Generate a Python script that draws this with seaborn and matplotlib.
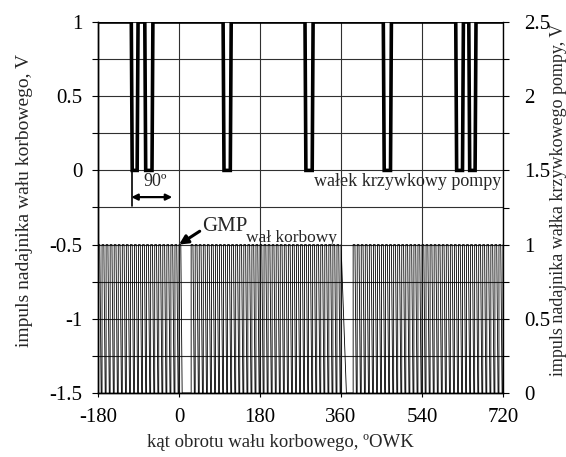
import matplotlib
matplotlib.use("Agg")
import matplotlib.pyplot as plt
import seaborn as sns
from matplotlib.ticker import MultipleLocator, FixedLocator

# ---------------- data ----------------
x_ticks = [-180, 0, 180, 360, 540, 720]
left_ticks = [-1.5, -1, -0.5, 0, 0.5, 1]
left_tick_labels = ["-1.5", "-1", "-0.5", "0", "0.5", "1"]
right_ticks = [0, 0.5, 1, 1.5, 2, 2.5]
right_tick_labels = ["0", "0.5", "1", "1.5", "2", "2.5"]

# camshaft (pump) sensor: level 1 V with dips to 0 V (bottom start / end, degrees)
cam_high = 1.0
cam_low = 0.0
cam_dip_start = [-104, -74, 100, 282, 456, 617, 646]
cam_dip_end = [-93, -60, 114, 296, 470, 630, 658]

# crankshaft sensor: rising edges of teeth (degrees), two missing teeth after 0 and 360
crank_teeth_a = [-180, -171, -162, -153, -144, -135, -126, -117, -108, -99, -90,
                 -81, -72, -63, -54, -45, -36, -27, -18, -9, 0]
crank_teeth_b = [27, 36, 45, 54, 63, 72, 81, 90, 99, 108, 117, 126, 135, 144, 153,
                 162, 171, 180, 189, 198, 207, 216, 225, 234, 243, 252, 261, 270,
                 279, 288, 297, 306, 315, 324, 333, 342, 351, 360]
crank_teeth_c = [387, 396, 405, 414, 423, 432, 441, 450, 459, 468, 477, 486, 495,
                 504, 513, 522, 531, 540, 549, 558, 567, 576, 585, 594, 603, 612,
                 621, 630, 639, 648, 657, 666, 675, 684, 693, 702, 711, 720]
crank_high = 1.0
crank_low = 0.0

# ---------------- style / shape params ----------------
cam_edge = 2.0
crank_hold = 4.0
crank_fall = 3.0
crank_slow_fall = {360: 12.0}
x_min, x_max = -180, 720

# build cam path
cam_x = [x_min]
cam_y = [cam_high]
for s, e in zip(cam_dip_start, cam_dip_end):
    cam_x += [s - cam_edge, s, e, e + cam_edge]
    cam_y += [cam_high, cam_low, cam_low, cam_high]
cam_x.append(x_max)
cam_y.append(cam_high)

# build crank path
crank_x, crank_y = [], []
for t in crank_teeth_a + crank_teeth_b + crank_teeth_c:
    if t >= x_max:
        crank_x += [t, t]
        crank_y += [crank_low, crank_high]
    elif t in crank_slow_fall:
        crank_x += [t, t, t + crank_slow_fall[t]]
        crank_y += [crank_low, crank_high, crank_low]
    else:
        crank_x += [t, t, t + crank_hold, t + crank_hold + crank_fall]
        crank_y += [crank_low, crank_high, crank_high, crank_low]

# ---------------- plotting ----------------
sns.set_style("ticks")
plt.rcParams["font.family"] = ["Liberation Serif", "DejaVu Serif"]

fig = plt.figure(figsize=(5.66, 4.57), dpi=100)
ax = fig.add_axes([98 / 566, 64 / 457, 405 / 566, 371 / 457])
ax2 = ax.twinx()
ax2.set_position(ax.get_position())

ax.set_xlim(x_min, x_max)
ax.set_ylim(-1.5, 1.0)
ax2.set_ylim(0, 2.5)

ax.xaxis.set_major_locator(FixedLocator(x_ticks))
ax.set_xticklabels([str(v) for v in x_ticks])
ax.yaxis.set_major_locator(FixedLocator(left_ticks))
ax.set_yticklabels(left_tick_labels)
ax.yaxis.set_minor_locator(MultipleLocator(0.25))
ax2.yaxis.set_major_locator(FixedLocator(right_ticks))
ax2.set_yticklabels(right_tick_labels)
ax2.yaxis.set_minor_locator(MultipleLocator(0.25))

ax.grid(True, which="major", axis="x", color="#303030", lw=0.8)
ax.grid(True, which="both", axis="y", color="#303030", lw=0.8)
ax.set_axisbelow(True)

sns.lineplot(x=cam_x, y=cam_y, ax=ax, sort=False, estimator=None,
             color="black", lw=2.6, solid_joinstyle="miter")
sns.lineplot(x=crank_x, y=crank_y, ax=ax2, sort=False, estimator=None,
             color="black", lw=0.6)

for a in (ax, ax2):
    a.spines["top"].set_visible(False)
    for s in a.spines.values():
        s.set_color("black")
        s.set_linewidth(1.0)
ax.spines["right"].set_visible(False)

ax.tick_params(axis="x", which="both", direction="out", length=3, width=0.8,
               labelsize=15, pad=8, colors="black")
ax.tick_params(axis="y", which="both", direction="out", length=4, width=0.8,
               labelsize=15, pad=7, colors="black")
ax2.tick_params(axis="y", which="both", direction="out", length=4, width=0.8,
                labelsize=15, pad=11, colors="black")

ax.set_xlabel("kąt obrotu wału korbowego, ºOWK", fontsize=13.5)
ax.xaxis.set_label_coords(0.45, -0.11)
ax.set_ylabel("impuls nadajnika wału korbowego, V", fontsize=14)
ax.yaxis.set_label_coords(-0.16, 0.52)
ax2.set_ylabel("impuls nadajnika wałka krzywkowego pompy, V", fontsize=13)
ax2.yaxis.set_label_coords(1.116, 0.52)

# annotations
ax.text(-54, -0.075, "90º", fontsize=13, ha="center", va="center")
ax.annotate("", xy=(-106, -0.18), xytext=(-15, -0.18),
            arrowprops=dict(arrowstyle="<|-|>", color="black", lw=1.6,
                            mutation_scale=9, shrinkA=0, shrinkB=0))
ax.plot([-105, -105], [0, -0.24], color="black", lw=1.2)
ax.text(301, -0.105, "wałek krzywkowy pompy", fontsize=13, ha="left", va="baseline")

ax.text(51, -0.405, "GMP", fontsize=15, ha="left", va="baseline")
ax.text(150, -0.48, "wał korbowy", fontsize=12.5, ha="left", va="baseline")
ax.annotate("", xy=(0, -0.5), xytext=(46, -0.41),
            arrowprops=dict(arrowstyle="-|>", color="black", lw=2.2,
                            mutation_scale=13, shrinkA=0, shrinkB=0))

fig.savefig("out.png", dpi=100)
